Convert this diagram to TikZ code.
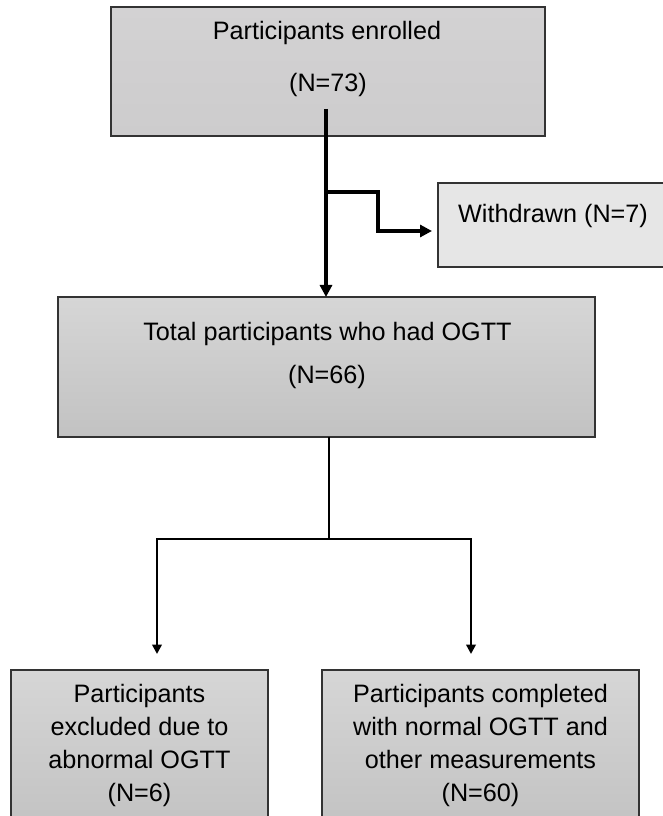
\documentclass[tikz,border=0pt]{standalone}
\usepackage{fontspec}
\setmainfont{Liberation Sans}
\usetikzlibrary{arrows.meta}
\definecolor{edgegray}{HTML}{333333}
\definecolor{boxtop}{HTML}{D6D6D6}
\definecolor{boxbot}{HTML}{C2C2C2}
\definecolor{onetop}{HTML}{D3D2D3}
\definecolor{onebot}{HTML}{CDCCCD}
\definecolor{wdfill}{HTML}{E6E6E6}
\begin{document}
\begin{tikzpicture}[x=0.75pt,y=-0.75pt,
  box/.style={draw=edgegray, line width=1.4pt, inner sep=0pt, outer sep=0pt},
  gbox/.style={box, top color=boxtop, bottom color=boxbot},
  txt/.style={font=\fontsize{18.9}{24.75}\selectfont, inner sep=0pt, anchor=base},
  mtxt/.style={font=\fontsize{18.9}{24.75}\selectfont, inner sep=0pt, anchor=north, align=center},
  thickconn/.style={line width=2.3pt, -{Triangle[length=9pt,width=9pt]}},
  thinline/.style={line width=1.5pt},
  botconn/.style={line width=2pt, {Triangle[length=7pt,width=7pt]}-{Triangle[length=7pt,width=7pt]}}
]
\useasboundingbox (0,0) rectangle (662,816);

% boxes
\node[box, top color=onetop, bottom color=onebot, minimum width=325.5pt, minimum height=96.75pt] (enrolled) at (328,71.5) {};
\node[gbox, minimum width=402.75pt, minimum height=105pt] (ogtt) at (326.5,367) {};
\node[box, fill=wdfill, minimum width=169.5pt, minimum height=63pt] (withdrawn) at (551,225) {};
\node[gbox, minimum width=192.75pt, minimum height=120pt] (excluded) at (139.5,750) {};
\node[gbox, minimum width=237.75pt, minimum height=120pt] (completed) at (480.5,750) {};

% texts
\node[txt] (t1a) at (327,39.5) {Participants enrolled};
\node[txt] (t1b) at (328,92) {(N=73)};
\node[txt] (t2a) at (327.5,340) {Total participants who had OGTT};
\node[txt] (t2b) at (327,383) {(N=66)};
\node[txt] (t3) at (553,223) {Withdrawn (N=7)};
\node[mtxt] (t4) at (139.5,679) {\strut Participants\\excluded due to\\abnormal OGTT\\(N=6)};
\node[mtxt] (t5) at (480.5,679) {\strut Participants completed\\with normal OGTT and\\other measurements\\(N=60)};

% connectors
\coordinate (s1) at (326,109);
\coordinate (j1) at (326,192);
\coordinate (wt) at (432,231);
\draw[thickconn] (s1) -- (s1 |- ogtt.north);
\draw[thickconn] (j1) -- ++(52,0) |- (wt);

\coordinate (j2) at (329,539);
\coordinate (lt) at (157,654);
\coordinate (rt) at (471,654);
\draw[thinline] (ogtt.south -| j2) -- (j2);
\draw[botconn] (lt) |- (j2) -| (rt);
\end{tikzpicture}
\end{document}
